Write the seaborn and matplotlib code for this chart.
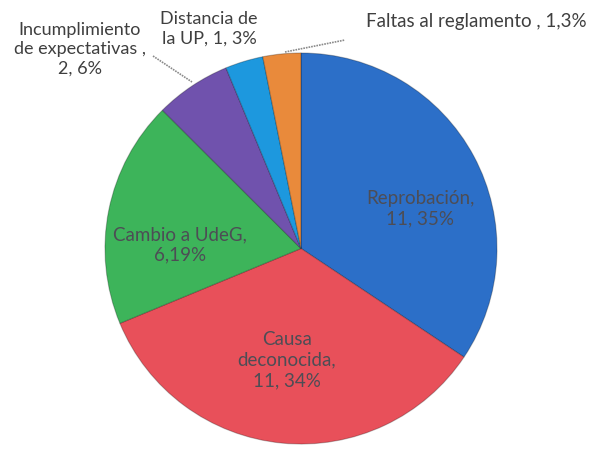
import matplotlib
matplotlib.use("Agg")
import matplotlib.pyplot as plt
import seaborn as sns

categories = ["Reprobación", "Causa deconocida", "Cambio a UdeG",
              "Incumplimiento de expectativas", "Distancia de la UP",
              "Faltas al reglamento"]
values = [11, 11, 6, 2, 1, 1]
label_texts = ["Reprobación,\n11, 35%", "Causa\ndeconocida,\n11, 34%",
               "Cambio a UdeG,\n6,19%", "Incumplimiento\nde expectativas ,\n2, 6%",
               "Distancia de\nla UP, 1, 3%", "Faltas al reglamento , 1,3%"]
colors = ["#2c6fc8", "#e8505a", "#3db45a", "#7052ad", "#1d98de", "#e98a3b"]

sns.set_theme(style="white")
plt.rcParams['font.family'] = ['Lato', 'DejaVu Sans']

W, H = 591, 450
fig = plt.figure(figsize=(W / 100, H / 100), dpi=100)
fig.patch.set_facecolor("white")

left, right, top, bottom = 104, 498, 52, 445
ax = fig.add_axes([left / W, 1 - bottom / H, (right - left) / W, (bottom - top) / H])
ax.pie(values, colors=colors, startangle=90, counterclock=False,
       wedgeprops=dict(linewidth=0.8, edgecolor=(0, 0, 0, 0.25)))
ax.set_aspect("auto")
ax.set_xlim(-1.005, 1.005)
ax.set_ylim(-1.005, 1.005)
ax.axis("off")

def px(x, y):
    return x / W, 1 - y / H

txt_color = "#3f3f3f"
inside = [(0, 420, 209), (1, 287, 360), (2, 180, 245)]
for i, x, y in inside:
    fig.text(*px(x, y), label_texts[i], ha="center", va="center",
             fontsize=13.5, color="#4d4d55", linespacing=1.25)

fig.text(*px(80, 49), label_texts[3], ha="center", va="center",
         fontsize=13, color=txt_color, linespacing=1.25)
fig.text(*px(209, 29), label_texts[4], ha="center", va="center",
         fontsize=13, color=txt_color, linespacing=1.25)
fig.text(*px(366, 22), label_texts[5], ha="left", va="center",
         fontsize=13.5, color=txt_color)

# leader lines
fig.add_artist(plt.Line2D([153 / W, 192 / W], [1 - 56 / H, 1 - 82 / H],
                          color="#8a8a8a", lw=1.2, linestyle=(0, (1, 0.6))))
fig.add_artist(plt.Line2D([285 / W, 345 / W], [1 - 52 / H, 1 - 40 / H],
                          color="#8a8a8a", lw=1.2, linestyle=(0, (1, 0.6))))

fig.savefig("out.png", dpi=100)
